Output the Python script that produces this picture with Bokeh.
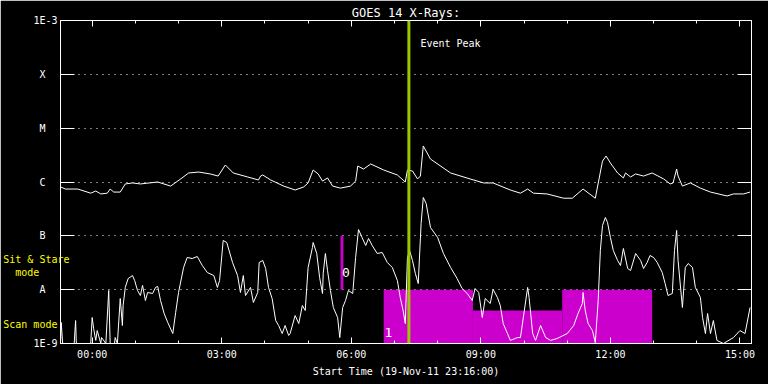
from bokeh.plotting import figure
from bokeh.models import (FixedTicker, LogAxis, LinearAxis, Span, Label,
                          CustomJSTickFormatter, Range1d)
from bokeh.embed import file_html
from bokeh.resources import INLINE

# ---- data (time = minutes after 19-Nov-11 23:16:00, flux in W/m^2) ----
long_min = [0, 7, 24, 42, 49, 56, 65, 69, 74, 83, 90, 100, 111, 135, 153, 167, 178, 192, 208, 219,
            229, 240, 260, 275, 278, 281, 292, 310, 326, 338, 344, 351, 358, 364, 371, 378, 389, 403, 410, 413,
            421, 431, 449, 468, 479, 482, 489, 496, 500, 504, 514, 542, 569, 588, 601, 625, 639, 649, 657, 676,
            699, 711, 726, 743, 753, 758, 764, 774, 782, 785, 792, 799, 810, 822, 838, 847, 851, 856, 858, 864,
            875, 889, 903, 926, 935, 949, 958]
long_flux = [8.1e-7, 7.4e-7, 7.4e-7, 6.2e-7, 6.8e-7, 6.0e-7, 6.2e-7, 7.4e-7, 6.5e-7, 6.5e-7,
             9.2e-7, 9.6e-7, 9.2e-7, 1.0e-6, 8.4e-7, 1.14e-6, 1.47e-6, 1.53e-6, 1.41e-6, 1.29e-6,
             2.07e-6, 1.47e-6, 1.24e-6, 1.09e-6, 1.29e-6, 1.35e-6, 1.09e-6, 8.4e-7, 7.1e-7, 8.1e-7,
             9.6e-7, 1.67e-6, 1.41e-6, 1.04e-6, 1.19e-6, 8.4e-7, 7.7e-7, 8.4e-7, 1.04e-6, 1.98e-6,
             1.74e-6, 2.16e-6, 1.67e-6, 1.35e-6, 1.0e-6, 1.67e-6, 1.60e-6, 1.14e-6, 1.29e-6, 4.67e-6,
             2.67e-6, 1.47e-6, 1.14e-6, 9.6e-7, 9.6e-7, 7.1e-7, 6.2e-7, 7.4e-7, 6.2e-7, 6.0e-7,
             5.0e-7, 5.0e-7, 7.4e-7, 5.0e-7, 2.45e-6, 3.04e-6, 2.25e-6, 1.47e-6, 1.19e-6, 1.47e-6,
             1.24e-6, 1.41e-6, 1.29e-6, 1.47e-6, 1.14e-6, 9.2e-7, 9.6e-7, 1.74e-6, 1.29e-6, 8.4e-7,
             9.6e-7, 7.7e-7, 6.5e-7, 5.5e-7, 6.0e-7, 6.0e-7, 6.5e-7]

short_min = [0, 1, 3, 19, 21, 22, 42, 44, 46, 49, 51, 56, 57, 63, 67, 69, 75, 76, 79, 83,
             86, 87, 90, 94, 100, 103, 107, 111, 114, 118, 121, 128, 132, 135, 139, 144, 149, 156, 160, 164,
             171, 176, 183, 190, 197, 204, 213, 218, 221, 226, 231, 239, 246, 250, 254, 257, 264, 268, 274, 276,
             281, 285, 289, 294, 299, 303, 308, 312, 317, 319, 326, 331, 336, 340, 344, 350, 351, 356, 360, 364,
             365, 368, 371, 375, 379, 385, 388, 392, 396, 400, 406, 410, 414, 419, 424, 428, 433, 440, 447, 454,
             461, 468, 472, 476, 479, 482, 485, 489, 493, 497, 501, 504, 508, 514, 524, 532, 542, 551, 558, 565,
             572, 576, 581, 586, 590, 597, 601, 607, 611, 615, 621, 625, 635, 639, 649, 651, 656, 660, 667, 674,
             681, 690, 704, 713, 719, 725, 726, 729, 733, 739, 743, 747, 750, 753, 757, 760, 764, 768, 774, 778,
             782, 788, 792, 799, 806, 810, 815, 819, 824, 829, 836, 840, 844, 850, 853, 856, 858, 864, 868, 872,
             878, 882, 889, 892, 896, 899, 903, 907, 912, 921, 935, 944, 951, 958]
short_flux = [1.0e-9, 2.46e-9, 1.0e-9, 1.0e-9, 2.67e-9, 1.0e-9, 1.0e-9, 3.04e-9, 1.90e-9, 1.14e-9,
              1.74e-9, 1.0e-9, 1.29e-9, 1.0e-9, 9.66e-9, 1.0e-9, 1.0e-9, 1.29e-9, 1.0e-9, 6.85e-9,
              2.16e-9, 5.08e-9, 1.10e-8, 1.61e-8, 1.83e-8, 1.48e-8, 9.66e-9, 7.79e-9, 1.20e-8, 6.29e-9,
              8.86e-9, 8.49e-9, 1.10e-8, 1.15e-8, 6.29e-9, 3.61e-9, 2.46e-9, 1.53e-9, 3.77e-9, 8.86e-9,
              2.58e-8, 3.96e-8, 3.79e-8, 4.13e-8, 2.81e-8, 2.08e-8, 1.83e-8, 1.10e-8, 1.48e-8, 8.19e-8,
              7.52e-8, 3.20e-8, 1.83e-8, 8.86e-9, 1.83e-8, 7.79e-9, 1.10e-8, 5.78e-9, 8.86e-9, 3.20e-8,
              3.48e-8, 2.47e-8, 1.10e-8, 6.85e-9, 2.67e-9, 2.16e-9, 1.53e-9, 2.16e-9, 1.41e-9, 1.53e-9,
              3.31e-9, 2.35e-9, 5.08e-9, 4.10e-9, 2.58e-8, 6.07e-8, 7.52e-8, 4.70e-8, 1.68e-8, 8.49e-9,
              2.00e-8, 4.70e-8, 2.27e-8, 9.66e-9, 4.67e-9, 3.04e-9, 1.29e-9, 4.67e-9, 6.29e-9, 9.66e-9,
              8.49e-9, 3.96e-8, 1.31e-7, 9.31e-8, 6.62e-8, 8.93e-8, 6.62e-8, 4.70e-8, 4.90e-8, 3.20e-8,
              2.58e-8, 1.48e-8, 7.16e-9, 4.10e-9, 2.35e-9, 3.96e-8, 5.34e-8, 3.48e-8, 2.00e-8, 1.30e-8,
              1.70e-7, 5.15e-7, 3.99e-7, 1.43e-7, 9.31e-8, 4.70e-8, 2.58e-8, 1.61e-8, 1.05e-8, 8.49e-9,
              6.29e-9, 1.05e-8, 8.86e-9, 3.04e-9, 6.85e-9, 5.53e-9, 1.01e-8, 7.16e-9, 5.08e-9, 2.35e-9,
              1.53e-9, 1.14e-9, 1.29e-9, 1.29e-9, 1.10e-8, 7.16e-9, 1.53e-9, 1.14e-9, 2.16e-9, 1.29e-9,
              1.14e-9, 1.24e-9, 1.53e-9, 2.16e-9, 3.61e-9, 5.53e-9, 8.86e-9, 4.10e-9, 2.35e-9, 1.74e-9,
              1.04e-9, 6.29e-9, 5.34e-8, 1.56e-7, 2.19e-7, 1.77e-7, 9.31e-8, 5.34e-8, 3.48e-8, 2.81e-8,
              5.82e-8, 2.47e-8, 2.27e-8, 4.70e-8, 3.48e-8, 2.47e-8, 3.20e-8, 4.31e-8, 3.96e-8, 3.20e-8,
              2.08e-8, 1.30e-8, 7.79e-9, 8.49e-9, 5.34e-8, 1.26e-7, 3.48e-8, 4.67e-9, 2.58e-8, 3.06e-8,
              2.58e-8, 1.10e-8, 7.16e-9, 3.04e-9, 1.53e-9, 3.61e-9, 1.53e-9, 2.67e-9, 1.14e-9, 1.0e-9,
              1.29e-9, 1.74e-9, 1.53e-9, 4.67e-9]

# observing-mode blocks (0 = sit & stare, 1 = scan)
mode_start = [389, 449, 573, 697]
mode_end = [393, 573, 697, 822]
mode_bottom = [1e-8, 1e-9, 1e-9, 1e-9]
mode_top = [1e-7, 1e-8, 4.1e-9, 1e-8]
event_peak_min = 484

x_tick_min = [44, 224, 404, 584, 764, 944]
x_tick_labels = ["00:00", "03:00", "06:00", "09:00", "12:00", "15:00"]
x_minor_min = [44, 104, 164, 224, 284, 344, 404, 464, 524, 584, 644, 704, 764, 824, 884, 944]
y_tick_vals = [1e-9, 1e-8, 1e-7, 1e-6, 1e-5, 1e-4, 1e-3]
y_tick_labels = ["1E-9", "A\u00a0\u00a0", "B\u00a0\u00a0", "C\u00a0\u00a0", "M\u00a0\u00a0", "X\u00a0\u00a0", "1E-3"]
y_grid_vals = [1e-8, 1e-7, 1e-6, 1e-5, 1e-4]
# observing-mode legend texts on the left margin
mode_label_vals = [3.63e-8, 2.08e-8, 2.25e-9]
mode_label_texts = ["Sit & Stare", "mode\u00a0\u00a0\u00a0\u00a0\u00a0", "Scan mode\u00a0\u00a0"]

FONT = "DejaVu Sans Mono"
WHITE = "white"

p = figure(width=768, height=384, x_range=Range1d(0, 960), y_range=Range1d(1e-9, 1e-3),
           y_axis_type="log", output_backend="svg", toolbar_location=None,
           min_border_left=60, min_border_right=17, min_border_top=20, min_border_bottom=41,
           background_fill_color="black", border_fill_color="black",
           outline_line_color=WHITE)

p.title.text = "GOES 14 X-Rays:"
p.title.align = "center"
p.title.text_color = WHITE
p.title.text_font = FONT
p.title.text_font_size = "12px"
p.title.text_font_style = "normal"
p.title.standoff = 2

LOOKUP = """
let best = 0, bd = 1e9;
for (let i = 0; i < vals.length; i++) {
  const d = Math.abs(Math.log10(vals[i]) - Math.log10(tick));
  if (d < bd) { bd = d; best = i; }
}
return bd < 0.05 ? labs[best] : "";
"""
fmt = CustomJSTickFormatter(args=dict(vals=y_tick_vals, labs=y_tick_labels), code=LOOKUP)
mode_fmt = CustomJSTickFormatter(args=dict(vals=mode_label_vals, labs=mode_label_texts), code=LOOKUP)
blank = CustomJSTickFormatter(code='return "";')


def style_axis(ax):
    ax.axis_line_color = WHITE
    ax.major_tick_line_color = WHITE
    ax.minor_tick_line_color = WHITE
    ax.major_tick_out = 0
    ax.minor_tick_out = 0
    ax.major_label_text_color = WHITE
    ax.major_label_text_font = FONT
    ax.major_label_text_font_size = "10px"
    ax.axis_label_text_color = WHITE
    ax.axis_label_text_font = FONT
    ax.axis_label_text_font_size = "10px"
    ax.axis_label_text_font_style = "normal"


xticker = FixedTicker(ticks=x_tick_min, minor_ticks=x_minor_min)
xa = p.xaxis[0]
xa.ticker = xticker
xa.major_label_overrides = dict(zip(x_tick_min, x_tick_labels))
style_axis(xa)
xa.major_tick_in = 6
xa.minor_tick_in = 3
xa.major_label_standoff = 5
xa.axis_label = "Start Time (19-Nov-11 23:16:00)"
xa.axis_label_standoff = 3

top = LinearAxis(ticker=xticker, formatter=blank)
style_axis(top)
top.major_tick_in = 6
top.minor_tick_in = 3
top.major_label_standoff = 0
p.add_layout(top, "above")

yticker = FixedTicker(ticks=y_tick_vals)
ya = p.yaxis[0]
ya.ticker = yticker
ya.formatter = fmt
style_axis(ya)
ya.major_tick_in = 14
ya.minor_tick_line_color = None
ya.major_label_standoff = 3

# outer left axis carrying the yellow observing-mode texts
mode_axis = LogAxis(ticker=FixedTicker(ticks=mode_label_vals), formatter=mode_fmt)
style_axis(mode_axis)
mode_axis.axis_line_color = None
mode_axis.major_tick_line_color = None
mode_axis.minor_tick_line_color = None
mode_axis.major_tick_in = 0
mode_axis.major_label_text_color = "yellow"
mode_axis.major_label_standoff = -39
p.add_layout(mode_axis, "left")

right = LogAxis(ticker=yticker, formatter=blank)
style_axis(right)
right.major_tick_in = 14
right.minor_tick_line_color = None
right.major_label_standoff = 0
p.add_layout(right, "right")

p.xgrid.visible = False
p.ygrid[0].ticker = FixedTicker(ticks=y_grid_vals)
p.ygrid.grid_line_color = WHITE
p.ygrid.grid_line_dash = "1 5"
p.ygrid.grid_line_width = 1

p.quad(left=mode_start, right=mode_end, bottom=mode_bottom, top=mode_top,
       fill_color="#CC00CC", line_color=None)

p.line(long_min, long_flux, line_color=WHITE, line_width=1)
p.line(short_min, short_flux, line_color=WHITE, line_width=1)

p.add_layout(Span(location=event_peak_min, dimension="height", line_color="#9BC800", line_width=3))


def lab(x, y, text, size="10px"):
    p.add_layout(Label(x=x, y=y, text=text, text_color=WHITE, text_font=FONT,
                       text_font_size=size, text_align="left", text_baseline="middle"))


lab(500, 3.74e-4, "Event Peak")
lab(391, 2.08e-8, "0", size="13px")
lab(450, 1.6e-9, "1", size="13px")

open("out.html", "w").write(file_html(p, INLINE))
